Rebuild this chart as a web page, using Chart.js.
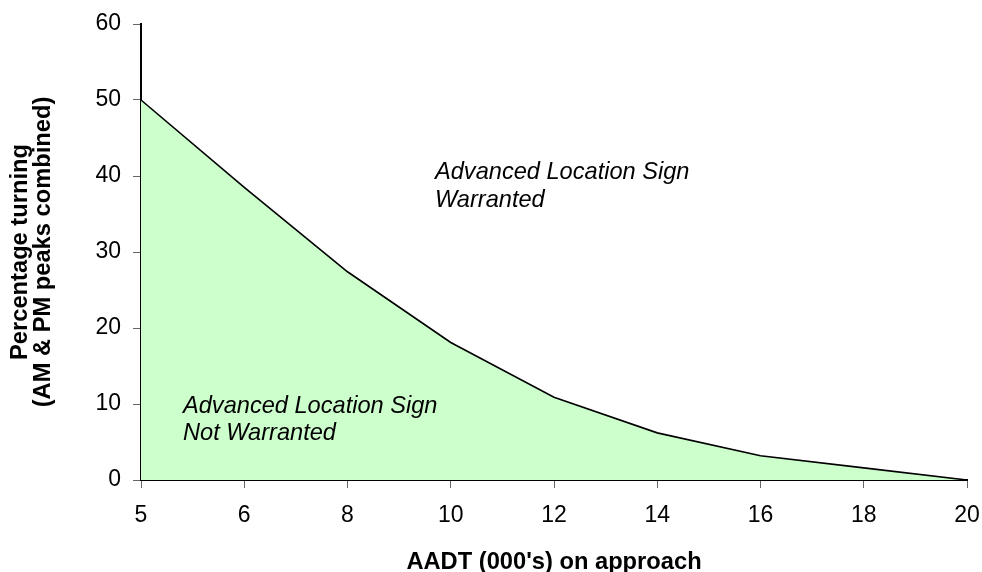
<!DOCTYPE html>
<html>
<head>
<meta charset="utf-8">
<script src="https://cdn.jsdelivr.net/npm/chart.js@4/dist/chart.umd.min.js"></script>
<style>
  html, body { margin: 0; padding: 0; background: #fff; }
  #wrap { width: 982px; height: 572px; }
</style>
</head>
<body>
<div id="wrap"><canvas id="c" width="982" height="572"></canvas></div>
<script>
const categories = ["5", "6", "8", "10", "12", "14", "16", "18", "20"];
const percentTurning = [50, 38.5, 27.4, 18.1, 10.9, 6.2, 3.2, 1.6, 0];
const yTicks = [0, 10, 20, 30, 40, 50, 60];
const xTitle = "AADT (000's) on approach";
const yTitle = ["Percentage turning", "(AM & PM peaks combined)"];
const upperNote = ["Advanced Location Sign", "Warranted"];
const lowerNote = ["Advanced Location Sign", "Not Warranted"];

const FONT = "'Liberation Sans', Arial, sans-serif";

const notes = {
  id: 'notes',
  afterDatasetsDraw(chart) {
    const ctx = chart.ctx;
    const a = chart.chartArea;
    ctx.save();
    ctx.font = "italic 23.6px " + FONT;
    ctx.fillStyle = '#000';
    ctx.textBaseline = 'alphabetic';
    ctx.textAlign = 'left';
    const ux = a.left + 294, uy = a.top + 155;
    upperNote.forEach((t, i) => ctx.fillText(t, ux, uy + i * 28));
    const lx = a.left + 42, ly = a.top + 389;
    lowerNote.forEach((t, i) => ctx.fillText(t, lx, ly + i * 27));
    ctx.restore();
  }
};

new Chart(document.getElementById('c'), {
  type: 'line',
  data: {
    labels: categories,
    datasets: [{
      data: percentTurning,
      borderColor: '#000',
      borderWidth: 1.6,
      backgroundColor: '#CCFFCC',
      fill: 'origin',
      pointRadius: 0,
      tension: 0
    }]
  },
  options: {
    responsive: false,
    animation: false,
    devicePixelRatio: 1,
    layout: { padding: { top: 24, right: 15, left: 0, bottom: 0 } },
    plugins: { legend: { display: false }, tooltip: { enabled: false } },
    scales: {
      x: {
        type: 'category',
        offset: false,
        grid: { display: true, drawOnChartArea: false, drawTicks: true, tickLength: 8, color: '#666' },
        border: { display: true, color: '#000', width: 2 },
        ticks: { color: '#000', font: { family: FONT, size: 23 }, padding: 14, maxRotation: 0, autoSkip: false },
        title: { display: true, text: xTitle, color: '#000', font: { family: FONT, size: 23.7, weight: 'bold', lineHeight: 0.8 }, padding: { top: 0, bottom: 0 } },
        afterFit(s) { s.height = 92; s.paddingRight = 0; s.paddingLeft = 0; }
      },
      y: {
        min: 0, max: 60,
        afterBuildTicks(s) { s.ticks = yTicks.map(v => ({ value: v })); },
        grid: { display: true, drawOnChartArea: false, drawTicks: true, tickLength: 8, color: '#666' },
        border: { display: true, color: '#000', width: 2 },
        ticks: { color: '#000', font: { family: FONT, size: 23 }, padding: 12 },
        title: { display: true, text: yTitle, color: '#000', font: { family: FONT, size: 23.7, weight: 'bold', lineHeight: 0.97 }, padding: { top: 9, bottom: 0 } },
        afterFit(s) { s.width = 141; s.paddingTop = 0; s.paddingBottom = 0; }
      }
    }
  },
  plugins: [notes]
});
</script>
</body>
</html>
